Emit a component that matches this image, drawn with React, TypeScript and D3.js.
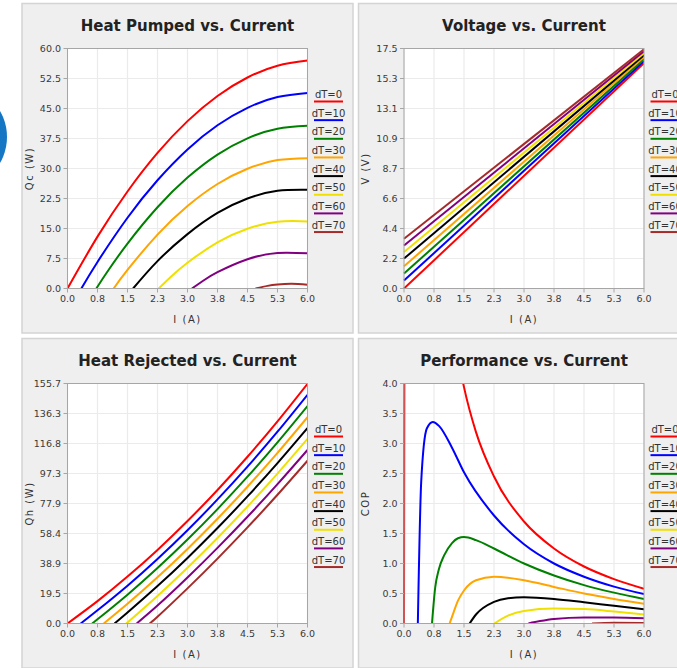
import React from "react";
import * as d3 from "d3";

type Pt = [number, number];

const dTLabels = ["dT=0", "dT=10", "dT=20", "dT=30", "dT=40", "dT=50", "dT=60", "dT=70"];
const seriesColors = ["#ff0000", "#0000ff", "#008000", "#ffa500", "#000000", "#f0e000", "#800080", "#a52a2a"];

const xTicks = [0, 0.75, 1.5, 2.25, 3, 3.75, 4.5, 5.25, 6];
const xTickLabels = ["0.0", "0.8", "1.5", "2.3", "3.0", "3.8", "4.5", "5.3", "6.0"];

const qcTicks = [0, 7.5, 15, 22.5, 30, 37.5, 45, 52.5, 60];
const qcTickLabels = ["0.0", "7.5", "15.0", "22.5", "30.0", "37.5", "45.0", "52.5", "60.0"];
const vTicks = [0, 2.1875, 4.375, 6.5625, 8.75, 10.9375, 13.125, 15.3125, 17.5];
const vTickLabels = ["0.0", "2.2", "4.4", "6.6", "8.7", "10.9", "13.1", "15.3", "17.5"];
const qhTicks = [0, 19.4625, 38.925, 58.3875, 77.85, 97.3125, 116.775, 136.2375, 155.7];
const qhTickLabels = ["0.0", "19.5", "38.9", "58.4", "77.9", "97.3", "116.8", "136.3", "155.7"];
const copTicks = [0, 0.5, 1, 1.5, 2, 2.5, 3, 3.5, 4];
const copTickLabels = ["0.0", "0.5", "1.0", "1.5", "2.0", "2.5", "3.0", "3.5", "4.0"];

// Heat pumped Qc (W) vs current I (A)
const qcData: Pt[][] = [
  [[0, 0], [0.75, 12.97], [1.5, 24.26], [2.25, 33.89], [3, 41.84], [3.75, 48.13], [4.5, 52.75], [5.25, 55.7], [6, 56.98]],
  [[0.346, 0], [0.75, 6.64], [1.5, 17.69], [2.25, 27.06], [3, 34.77], [3.75, 40.81], [4.5, 45.17], [5.25, 47.87], [6, 48.9]],
  [[0.72, 0], [1.0, 4.24], [1.5, 11.22], [2.25, 20.31], [3, 27.72], [3.75, 33.47], [4.5, 37.55], [5.25, 39.96], [6, 40.7]],
  [[1.154, 0], [1.5, 4.64], [2.25, 13.47], [3, 20.63], [3.75, 26.13], [4.5, 29.95], [5.25, 32.1], [6, 32.59]],
  [[1.64, 0], [2.25, 6.85], [3, 13.6], [3.75, 18.9], [4.5, 22.5], [5.25, 24.43], [6, 24.69]],
  [[2.28, 0], [2.6, 3.05], [3, 6.44], [3.75, 11.53], [4.5, 14.95], [5.25, 16.7], [6, 16.78]],
  [[3.11, 0], [3.4, 2.0], [3.75, 4.08], [4.5, 7.32], [5.25, 8.89], [6, 8.79]],
  [[4.7, 0], [5.0, 0.66], [5.25, 1.01], [5.6, 1.19], [6, 0.96]],
];

// Voltage V (V) vs current I (A)
const vData: Pt[][] = [
  [[0, 0], [6, 16.43]],
  [[0, 0.58], [6, 16.58]],
  [[0, 1.09], [6, 16.73]],
  [[0, 1.62], [6, 16.88]],
  [[0, 2.18], [6, 17.02]],
  [[0, 2.66], [6, 17.16]],
  [[0, 3.14], [6, 17.3]],
  [[0, 3.63], [6, 17.44]],
];

// Heat rejected Qh (W) vs current I (A)
const qhData: Pt[][] = [
  [[0, 0], [0.75, 14.51], [1.5, 30.42], [2.25, 47.75], [3, 66.49], [3.75, 86.63], [4.5, 108.19], [5.25, 131.16], [6, 155.54]],
  [[0.33, 0], [0.75, 8.58], [1.5, 24.56], [2.25, 41.87], [3, 60.51], [3.75, 80.49], [4.5, 101.79], [5.25, 124.42], [6, 148.39]],
  [[0.615, 0], [0.75, 2.75], [1.5, 18.72], [2.25, 35.96], [3, 54.46], [3.75, 74.22], [4.5, 95.25], [5.25, 117.54], [6, 141.09]],
  [[0.906, 0], [1.5, 12.79], [2.25, 29.99], [3, 48.38], [3.75, 67.96], [4.5, 88.74], [5.25, 110.7], [6, 133.85]],
  [[1.175, 0], [1.5, 7.11], [2.25, 24.27], [3, 42.55], [3.75, 61.94], [4.5, 82.45], [5.25, 104.06], [6, 126.79]],
  [[1.47, 0], [2.25, 17.91], [3, 36.18], [3.75, 55.5], [4.5, 75.86], [5.25, 97.28], [6, 119.75]],
  [[1.73, 0], [2.25, 11.61], [3, 29.83], [3.75, 49.04], [4.5, 69.24], [5.25, 90.42], [6, 112.59]],
  [[2.05, 0], [2.25, 4.36], [3, 22.77], [3.75, 42.1], [4.5, 62.35], [5.25, 83.52], [6, 105.61]],
];

// Coefficient of performance vs current I (A)
const copData: Pt[][] = [
  [[0, 0], [0.15, 44], [0.3, 21.9], [0.75, 8.42], [1.2, 5.06], [1.5, 3.94], [1.8, 3.19], [2.25, 2.45], [3, 1.7], [3.75, 1.25], [4.5, 0.95], [5.25, 0.74], [6, 0.58]],
  [[0.346, 0], [0.43, 2.36], [0.57, 3.25], [0.72, 3.36], [0.88, 3.29], [1.2, 2.93], [1.5, 2.52], [2.25, 1.8], [3, 1.32], [3.75, 1.0], [4.5, 0.78], [5.25, 0.615], [6, 0.49]],
  [[0.7, 0], [0.78, 0.6], [0.87, 0.9], [1.0, 1.13], [1.2, 1.34], [1.35, 1.42], [1.5, 1.44], [1.8, 1.39], [2.25, 1.25], [3, 1.0], [3.75, 0.8], [4.5, 0.64], [5.25, 0.515], [6, 0.41]],
  [[1.14, 0], [1.2, 0.11], [1.35, 0.38], [1.5, 0.55], [1.8, 0.72], [2.25, 0.78], [3, 0.72], [3.75, 0.61], [4.5, 0.5], [5.25, 0.41], [6, 0.33]],
  [[1.64, 0], [1.8, 0.15], [2.25, 0.36], [2.6, 0.42], [3, 0.437], [3.75, 0.41], [4.5, 0.355], [5.25, 0.295], [6, 0.238]],
  [[2.26, 0], [2.6, 0.13], [3, 0.21], [3.75, 0.25], [4.5, 0.24], [5.25, 0.2], [6, 0.15]],
  [[3.11, 0], [3.4, 0.04], [3.75, 0.075], [4.5, 0.1], [5.25, 0.098], [6, 0.086]],
  [[4.7, 0], [5.25, 0.012], [6, 0.009]],
];

const chartTitles = ["Heat Pumped vs. Current", "Voltage vs. Current", "Heat Rejected vs. Current", "Performance vs. Current"];
const yAxisLabels = ["Qc (W)", "V (V)", "Qh (W)", "COP"];
const xAxisLabel = "I (A)";
const xMax = 6;

const charts = [
  { title: chartTitles[0], yLabel: yAxisLabels[0], yMax: 60, ticks: qcTicks, tickLabels: qcTickLabels, data: qcData, curve: d3.curveNatural },
  { title: chartTitles[1], yLabel: yAxisLabels[1], yMax: 17.5, ticks: vTicks, tickLabels: vTickLabels, data: vData, curve: d3.curveLinear },
  { title: chartTitles[2], yLabel: yAxisLabels[2], yMax: 155.7, ticks: qhTicks, tickLabels: qhTickLabels, data: qhData, curve: d3.curveNatural },
  { title: chartTitles[3], yLabel: yAxisLabels[3], yMax: 4, ticks: copTicks, tickLabels: copTickLabels, data: copData, curve: d3.curveMonotoneX },
];

// layout (kept separate from data)
const panelOrigins: Pt[] = [[22, 3.5], [358.5, 3.5], [22, 338.5], [358.5, 338.5]];
const PANEL_W = 331;
const PANEL_H = 329.5;
const PLOT_L = 45.5;
const PLOT_T = 45;
const PLOT_S = 240;
const FONT = "'DejaVu Sans', Verdana, sans-serif";

function Chart({ cfg, ox, oy, idx }: any) {
  const x = d3.scaleLinear().domain([0, xMax]).range([PLOT_L, PLOT_L + PLOT_S]);
  const y = d3.scaleLinear().domain([0, cfg.yMax]).range([PLOT_T + PLOT_S, PLOT_T]);
  const line = d3
    .line<Pt>()
    .x((d) => x(d[0]))
    .y((d) => y(d[1]))
    .curve(cfg.curve);
  const clipId = `plotclip${idx}`;
  const right = PLOT_L + PLOT_S;
  const bottom = PLOT_T + PLOT_S;
  return (
    <g transform={`translate(${ox},${oy})`}>
      <rect x={0} y={0} width={PANEL_W} height={PANEL_H} fill="#efefef" stroke="#d4d4d4" strokeWidth={1.5} />
      <text
        x={PLOT_L + PLOT_S / 2}
        y={27.5}
        textAnchor="middle"
        fontFamily={FONT}
        fontWeight="bold"
        fontSize={15}
        fill="#222"
      >
        {cfg.title}
      </text>
      <defs>
        <clipPath id={clipId}>
          <rect x={PLOT_L - 1} y={PLOT_T} width={PLOT_S + 1} height={PLOT_S + 0.5} />
        </clipPath>
      </defs>
      <rect x={PLOT_L} y={PLOT_T} width={PLOT_S} height={PLOT_S} fill="#ffffff" />
      {xTicks.map((t, i) => (
        <line key={"gx" + i} x1={x(t)} x2={x(t)} y1={PLOT_T} y2={bottom} stroke="#ebebeb" strokeWidth={1.2} />
      ))}
      {cfg.ticks.map((t: number, i: number) => (
        <line key={"gy" + i} x1={PLOT_L} x2={right} y1={y(t)} y2={y(t)} stroke="#ebebeb" strokeWidth={1.2} />
      ))}
      <g clipPath={`url(#${clipId})`}>
        {cfg.data.map((s: Pt[], i: number) => (
          <path key={"s" + i} d={line(s) || ""} fill="none" stroke={seriesColors[i]} strokeWidth={2} />
        ))}
      </g>
      <rect x={PLOT_L} y={PLOT_T} width={PLOT_S} height={PLOT_S} fill="none" stroke="#a6a6a6" strokeWidth={1} />
      {xTicks.map((t, i) => (
        <line key={"tx" + i} x1={x(t)} x2={x(t)} y1={bottom} y2={bottom + 4} stroke="#a6a6a6" />
      ))}
      {cfg.ticks.map((t: number, i: number) => (
        <line key={"ty" + i} x1={PLOT_L - 4} x2={PLOT_L} y1={y(t)} y2={y(t)} stroke="#a6a6a6" />
      ))}
      {xTickLabels.map((l, i) => (
        <text
          key={"lx" + i}
          x={x(xTicks[i])}
          y={bottom + 13.7}
          textAnchor="middle"
          fontFamily={FONT}
          fontSize={9.5}
          fill="#3a3a3a"
        >
          {l}
        </text>
      ))}
      {cfg.tickLabels.map((l: string, i: number) => (
        <text
          key={"ly" + i}
          x={PLOT_L - 6.5}
          y={y(cfg.ticks[i]) + 3.4}
          textAnchor="end"
          fontFamily={FONT}
          fontSize={9.5}
          fill="#3a3a3a"
        >
          {l}
        </text>
      ))}
      <text
        x={PLOT_L + PLOT_S / 2}
        y={bottom + 34.5}
        textAnchor="middle"
        fontFamily={FONT}
        fontSize={10}
        letterSpacing={1.5}
        fill="#333"
      >
        {xAxisLabel}
      </text>
      <text
        transform={`translate(10.8,${PLOT_T + PLOT_S / 2}) rotate(-90)`}
        textAnchor="middle"
        fontFamily={FONT}
        fontSize={10}
        letterSpacing={1.5}
        fill="#333"
      >
        {cfg.yLabel}
      </text>
      {dTLabels.map((l, i) => {
        const ly = PLOT_T + 53 + i * 18.65;
        return (
          <g key={"lg" + i}>
            <line x1={right + 6.5} x2={right + 35.5} y1={ly} y2={ly} stroke={seriesColors[i]} strokeWidth={2} />
            <text x={right + 21} y={ly - 3.4} textAnchor="middle" fontFamily={FONT} fontSize={10} fill="#333">
              {l}
            </text>
          </g>
        );
      })}
    </g>
  );
}

export default function App() {
  return (
    <svg
      width={677}
      height={668}
      viewBox="0 0 677 668"
      style={{ position: "absolute", left: 0, top: 0, background: "#ffffff" }}
    >
      <circle cx={-45} cy={137} r={52} fill="#1577c4" />
      {charts.map((c, i) => (
        <Chart key={i} cfg={c} ox={panelOrigins[i][0]} oy={panelOrigins[i][1]} idx={i} />
      ))}
    </svg>
  );
}
